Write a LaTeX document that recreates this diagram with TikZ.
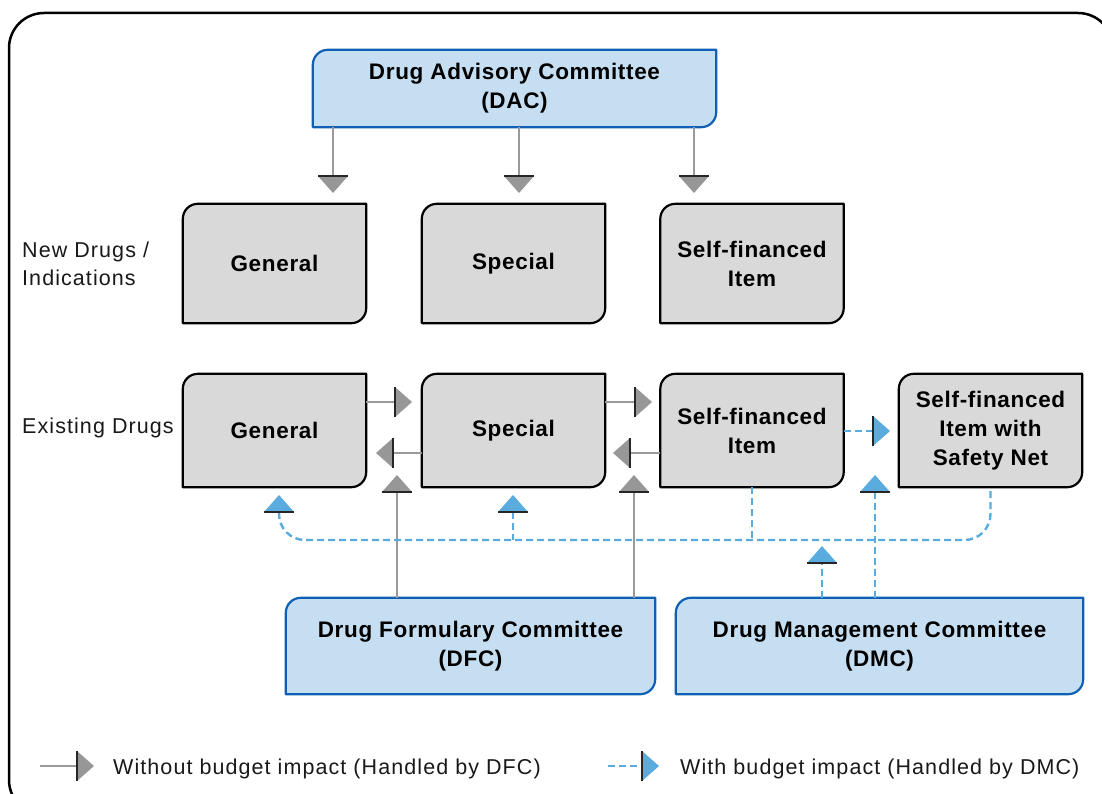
\documentclass[tikz,border=0pt]{standalone}
\usepackage{fontspec}
\setmainfont{Liberation Sans}
\newfontfamily\boxfam[LetterSpace=3]{Liberation Sans}
\newfontfamily\labfam[LetterSpace=5]{Liberation Sans}
\usetikzlibrary{backgrounds,calc}
\definecolor{boxgray}{HTML}{D9D9D9}
\definecolor{boxblue}{HTML}{C6DEF1}
\definecolor{blueline}{HTML}{0F5FB5}
\definecolor{dashblue}{HTML}{5AACDF}
\definecolor{conngray}{HTML}{9A9A9A}
\definecolor{headgray}{HTML}{979797}
\newcommand\cornerbox[3]{%
  \path[fill=#2, draw=#3, line width=2.2pt, line join=round]
    (#1.south west) -- ([yshift=-15pt]#1.north west)
    arc[start angle=180, end angle=90, radius=15pt]
    -- (#1.north east) -- ([yshift=15pt]#1.south east)
    arc[start angle=0, end angle=-90, radius=15pt] -- cycle;}
\tikzset{
  x=1pt, y=1pt,
  boxtext/.style={rectangle, inner sep=0pt, align=center,
    font=\boxfam\bfseries\fontsize{22.5}{29}\selectfont, text=black},
  gbox/.style={boxtext, minimum width=183pt},
  labtext/.style={inner sep=0pt, align=left,
    font=\labfam\fontsize{21.5}{28}\selectfont, text=black!90},
  gline/.style={draw=conngray, line width=2.2pt},
  dline/.style={draw=dashblue, line width=2.4pt, dash pattern=on 7pt off 4pt},
  ghead/.pic={\fill[headgray] (0,-15) -- (17,0) -- (0,15) -- cycle;
              \draw[black!85, line width=2.6pt] (0,-15) -- (0,15);},
  bhead/.pic={\fill[dashblue] (0,-15) -- (17,0) -- (0,15) -- cycle;
              \draw[black!85, line width=2.6pt] (0,-15) -- (0,15);}
}
\begin{document}
\begin{tikzpicture}
\useasboundingbox (0,0) rectangle (1102,-794);
\draw[line width=2.5pt, rounded corners=35pt] (9,-13) rectangle (1113,-815);

% nodes
\node[boxtext, minimum width=403pt, minimum height=77pt] (dac) at (514.5,-88.5) {Drug Advisory Committee\\(DAC)};
\node[gbox, minimum height=119pt] (g1) at (274.5,-263.5) {General};
\node[gbox, minimum height=119pt] (s1) at (513.5,-263.5) {Special};
\node[gbox, minimum height=119pt] (f1) at (752,-263.5) {Self-financed\\Item};
\node[gbox, minimum height=113pt] (g2) at (274.5,-430.5) {General};
\node[gbox, minimum height=113pt] (s2) at (513.5,-430.5) {Special};
\node[gbox, minimum height=113pt] (f2) at (752,-430.5) {Self-financed\\Item};
\node[gbox, minimum height=113pt] (n2) at (990.5,-430.5) {Self-financed\\Item with\\Safety Net};
\node[boxtext, minimum width=369pt, minimum height=96pt] (dfc) at (470.5,-646) {Drug Formulary Committee\\(DFC)};
\node[boxtext, minimum width=407pt, minimum height=96pt] (dmc) at (879.5,-646) {Drug Management Committee\\(DMC)};

\node[labtext, anchor=west] (lnew) at (22,-264) {New Drugs /\\Indications};
\node[labtext, anchor=west] (lex) at (22,-428) {Existing Drugs};

\begin{scope}[on background layer]
\fill[white] (0,0) rectangle (1102,-794);
\cornerbox{dac}{boxblue}{blueline}
\cornerbox{dfc}{boxblue}{blueline}
\cornerbox{dmc}{boxblue}{blueline}
\cornerbox{g1}{boxgray}{black}
\cornerbox{s1}{boxgray}{black}
\cornerbox{f1}{boxgray}{black}
\cornerbox{g2}{boxgray}{black}
\cornerbox{s2}{boxgray}{black}
\cornerbox{f2}{boxgray}{black}
\cornerbox{n2}{boxgray}{black}
\end{scope}

% DAC arrows
\coordinate (d1) at (333,-176);
\coordinate (d2) at (519,-176);
\coordinate (d3) at (694,-176);
\foreach \c in {d1,d2,d3}{
  \draw[gline] (dac.south -| \c) -- (\c);
  \pic[rotate=-90] at (\c) {ghead};
}

% horizontal gray arrows
\coordinate (r1) at (395,-402);
\coordinate (l1) at (393,-453);
\coordinate (r2) at (635,-402);
\coordinate (l2) at (630,-453);
\draw[gline] (g2.east |- r1) -- (r1); \pic at (r1) {ghead};
\draw[gline] (s2.west |- l1) -- (l1); \pic[rotate=180] at (l1) {ghead};
\draw[gline] (s2.east |- r2) -- (r2); \pic at (r2) {ghead};
\draw[gline] (f2.west |- l2) -- (l2); \pic[rotate=180] at (l2) {ghead};

% DFC arrows
\coordinate (u1) at (397,-492);
\coordinate (u2) at (634,-492);
\draw[gline] (dfc.north -| u1) -- (u1); \pic[rotate=90] at (u1) {ghead};
\draw[gline] (dfc.north -| u2) -- (u2); \pic[rotate=90] at (u2) {ghead};

% blue dashed network
\coordinate (busy) at (0,-540);
\coordinate (bg) at (279,-512);
\coordinate (bs) at (513,-512);
\draw[dline, rounded corners=26pt] (bg) |- (n2.south |- busy) -- (n2.south);
\draw[dline] (bs) -- (bs |- busy);
\draw[dline] (f2.south) -- (f2.south |- busy);
\pic[rotate=90] at (bg) {bhead};
\pic[rotate=90] at (bs) {bhead};

\coordinate (bn) at (873,-431);
\draw[dline] (f2.east |- bn) -- (bn); \pic at (bn) {bhead};

\coordinate (m1) at (822,-563);
\coordinate (m2) at (875,-492);
\draw[dline] (dmc.north -| m1) -- (m1); \pic[rotate=90] at (m1) {bhead};
\draw[dline] (dmc.north -| m2) -- (m2); \pic[rotate=90] at (m2) {bhead};

% legend
\coordinate (lga) at (40,-766);
\coordinate (lgb) at (77,-766);
\draw[gline] (lga) -- (lgb); \pic at (lgb) {ghead};
\node[labtext, anchor=base west] (lgt1) at (113,-774) {Without budget impact (Handled by DFC)};
\coordinate (lbc) at (608,-766);
\coordinate (lbd) at (642,-766);
\draw[dline] (lbc) -- (lbd); \pic at (lbd) {bhead};
\node[labtext, anchor=base west] (lgt2) at (680,-774) {With budget impact (Handled by DMC)};
\end{tikzpicture}
\end{document}
